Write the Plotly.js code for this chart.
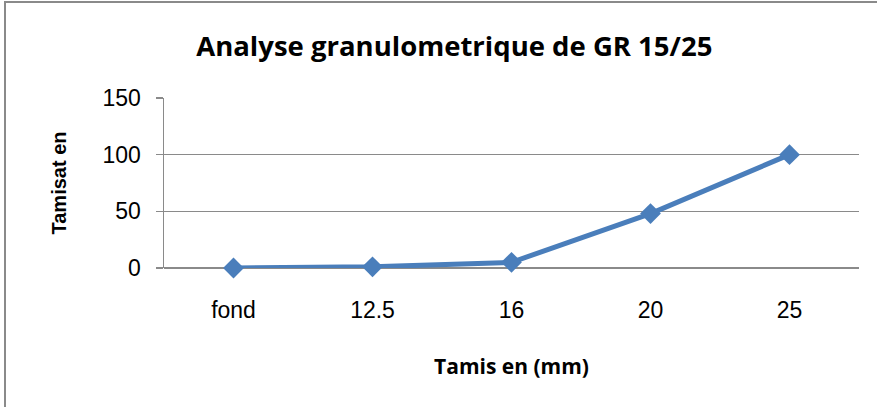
<!DOCTYPE html>
<html><head><meta charset="utf-8">
<script src="https://cdn.plot.ly/plotly-3.0.1.min.js"></script>
<style>
html,body{margin:0;padding:0;background:#fff;overflow:hidden;}
#frame{position:absolute;left:4px;top:1px;width:900px;height:430px;border-left:2px solid #8a8a8a;border-top:2px solid #8a8a8a;}
#chart{position:absolute;left:0;top:0;width:877px;height:407px;}
</style></head>
<body>
<div id="frame"></div>
<div id="chart"></div>
<script>
const categories = ["fond", "12.5", "16", "20", "25"];
const tamisat = [0, 1, 5, 48, 100];
const yTicks = [0, 50, 100, 150];

Plotly.newPlot('chart', [{
  x: categories,
  y: tamisat,
  type: 'scatter',
  mode: 'lines+markers',
  line: {color: '#4a7ebb', width: 5},
  marker: {symbol: 'diamond', size: 16, color: '#4a7ebb'},
  cliponaxis: false,
  hoverinfo: 'none'
}], {
  width: 877, height: 407,
  margin: {l: 164, r: 18, t: 98, b: 139},
  paper_bgcolor: 'rgba(0,0,0,0)',
  plot_bgcolor: 'rgba(0,0,0,0)',
  showlegend: false,
  title: {text: 'Analyse granulometrique de GR 15/25', x: 0.518, xanchor: 'center', y: 0.885, yanchor: 'middle',
          font: {family: 'Open Sans', size: 27.5, color: '#000', weight: 'bold'}},
  xaxis: {
    type: 'category', range: [-0.5, 4.5],
    tickvals: categories, ticktext: categories,
    showgrid: false, zeroline: false, showline: false, ticks: '',
    ticklabelstandoff: 26,
    tickfont: {family: 'Liberation Sans', size: 23, color: '#000'},
    title: {text: 'Tamis en (mm)', standoff: 37, font: {family: 'Open Sans', size: 21, color: '#000', weight: 'bold'}}
  },
  yaxis: {
    range: [0, 150], tickvals: yTicks, ticktext: yTicks.map(String),
    showgrid: true, gridcolor: '#8a8a8a', gridwidth: 1.5,
    zeroline: true, zerolinecolor: '#8a8a8a', zerolinewidth: 1.5,
    showline: true, linecolor: '#8a8a8a', linewidth: 1.5,
    ticks: 'outside', ticklen: 7, tickcolor: '#8a8a8a', tickwidth: 1.5,
    ticklabelstandoff: 10,
    tickfont: {family: 'Liberation Sans', size: 23, color: '#000'},
    title: {text: 'Tamisat en', standoff: 30, font: {family: 'Liberation Sans', size: 20, color: '#000', weight: 'bold'}}
  }
}, {displayModeBar: false, staticPlot: true});
</script>
</body></html>
